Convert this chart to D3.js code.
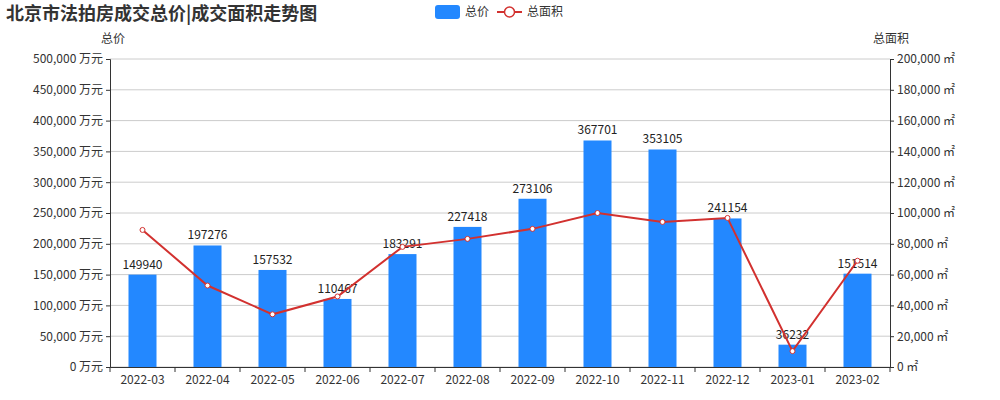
<!DOCTYPE html>
<html><head><meta charset="utf-8">
<script src="https://cdn.jsdelivr.net/npm/d3@7"></script>
<style>body{margin:0;background:#fff;font-family:"Noto Sans CJK SC","Noto Sans",sans-serif}</style>
</head><body><svg id="c" width="1000" height="400"></svg>
<script>
const months = ['2022-03','2022-04','2022-05','2022-06','2022-07','2022-08','2022-09','2022-10','2022-11','2022-12','2023-01','2023-02'];
const totalPrice = [149940,197276,157532,110467,183291,227418,273106,367701,353105,241154,36232,151514];
const totalArea = [89000,52900,34200,45800,78000,83200,89700,100000,94200,96800,10300,69000];

const svg = d3.select('#c');
const L = 110, R = 890, T = 59, B = 367;
const x = d3.scaleBand().domain(months).range([L, R]);
const yL = d3.scaleLinear().domain([0, 500000]).range([B, T]);
const yR = d3.scaleLinear().domain([0, 200000]).range([B, T]);
const fmt = d3.format(',');

// grid
svg.append('g').selectAll('line').data(yL.ticks(10)).join('line')
	.attr('x1', L).attr('x2', R).attr('y1', d => yL(d)).attr('y2', d => yL(d))
	.attr('stroke', '#ccc');

const gl = svg.append('g').attr('transform', `translate(${L},0)`)
	.call(d3.axisLeft(yL).ticks(10).tickSize(4).tickFormat(d => fmt(d) + ' 万元'));
const gr = svg.append('g').attr('transform', `translate(${R},0)`)
	.call(d3.axisRight(yR).ticks(10).tickSize(4).tickFormat(d => fmt(d) + ' ㎡'));
const gx = svg.append('g').attr('transform', `translate(0,${B})`)
	.call(d3.axisBottom(x).tickSize(0).tickPadding(8));
gx.selectAll('.tick').append('line').attr('x1', -x.bandwidth() / 2).attr('x2', -x.bandwidth() / 2).attr('y2', 5).attr('stroke', '#333');
gx.append('line').attr('x1', R).attr('x2', R).attr('y2', 5).attr('stroke', '#333');
[gl, gr, gx].forEach(g => {
	g.selectAll('text').attr('fill', '#333').style('font-size', '12px').style('font-family', '"Noto Sans CJK SC",sans-serif');
	g.selectAll('path,line').attr('stroke', '#333');
});

// bars
svg.append('g').selectAll('rect').data(totalPrice).join('rect')
	.attr('x', (d, i) => x(months[i]) + x.bandwidth() / 2 - 14)
	.attr('width', 28)
	.attr('y', d => yL(d)).attr('height', d => B - yL(d))
	.attr('fill', '#2388ff');
svg.append('g').selectAll('text').data(totalPrice).join('text')
	.attr('x', (d, i) => x(months[i]) + x.bandwidth() / 2)
	.attr('y', d => yL(d) - 6).attr('text-anchor', 'middle')
	.style('font-size', '12px').attr('fill', '#222').text(d => d);

// line
const cx = (d, i) => x(months[i]) + x.bandwidth() / 2;
svg.append('path').datum(totalArea)
	.attr('d', d3.line().x(cx).y(d => yR(d)))
	.attr('fill', 'none').attr('stroke', '#d2312f').attr('stroke-width', 2);
svg.append('g').selectAll('circle').data(totalArea).join('circle')
	.attr('cx', cx).attr('cy', d => yR(d)).attr('r', 2.5)
	.attr('fill', '#fff').attr('stroke', '#d2312f').attr('stroke-width', 1);

// titles
svg.append('text').attr('x', 6).attr('y', 20).style('font-size', '18px').style('font-weight', 'bold')
	.attr('fill', '#333').text('北京市法拍房成交总价|成交面积走势图');
svg.append('text').attr('x', 113).attr('y', 43).attr('text-anchor', 'middle').style('font-size', '12px').attr('fill', '#333').text('总价');
svg.append('text').attr('x', 891).attr('y', 43).attr('text-anchor', 'middle').style('font-size', '12px').attr('fill', '#333').text('总面积');

// legend
svg.append('rect').attr('x', 435).attr('y', 5).attr('width', 25).attr('height', 14).attr('rx', 3).attr('fill', '#2388ff');
svg.append('text').attr('x', 465).attr('y', 16).style('font-size', '12px').attr('fill', '#333').text('总价');
svg.append('line').attr('x1', 497).attr('x2', 522).attr('y1', 12).attr('y2', 12).attr('stroke', '#d2312f').attr('stroke-width', 2);
svg.append('circle').attr('cx', 509.5).attr('cy', 12).attr('r', 5).attr('fill', '#fff').attr('stroke', '#d2312f').attr('stroke-width', 1.5);
svg.append('text').attr('x', 527).attr('y', 16).style('font-size', '12px').attr('fill', '#333').text('总面积');
</script></body></html>
